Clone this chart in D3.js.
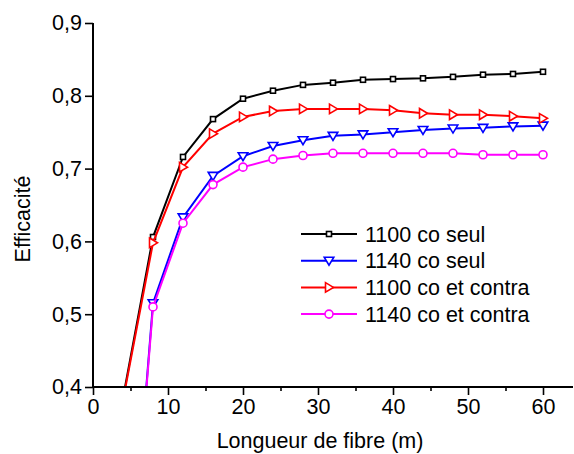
<!DOCTYPE html>
<html><head><meta charset="utf-8">
<script src="https://cdn.jsdelivr.net/npm/d3@7"></script>
<style>body{margin:0;background:#fff}svg{display:block}text{font-family:"Liberation Sans",Arial,sans-serif;fill:#000}</style>
</head><body><svg id="c" width="574" height="454"></svg>
<script>
const xValues = [4, 8, 12, 16, 20, 24, 28, 32, 36, 40, 44, 48, 52, 56, 60];
const s1100coSeul = [0.385, 0.606, 0.716, 0.768, 0.796, 0.807, 0.815, 0.818, 0.822, 0.823, 0.824, 0.826, 0.829, 0.830, 0.833];
const s1140coSeul = [0.0, 0.515, 0.633, 0.690, 0.717, 0.731, 0.739, 0.745, 0.747, 0.750, 0.753, 0.755, 0.756, 0.758, 0.759];
const s1100coContra = [0.382, 0.598, 0.702, 0.748, 0.771, 0.779, 0.782, 0.782, 0.782, 0.780, 0.776, 0.774, 0.774, 0.772, 0.769];
const s1140coContra = [0.0, 0.510, 0.625, 0.678, 0.702, 0.713, 0.718, 0.721, 0.721, 0.721, 0.721, 0.721, 0.719, 0.719, 0.719];
const seriesNames = ["1100 co seul", "1140 co seul", "1100 co et contra", "1140 co et contra"];
const xTicks = [0, 10, 20, 30, 40, 50, 60];
const xMinorTicks = [5, 15, 25, 35, 45, 55];
const yTicks = [0.4, 0.5, 0.6, 0.7, 0.8, 0.9];
const xTitle = "Longueur de fibre (m)";
const yTitle = "Efficacité";

const series = [
  {name: seriesNames[0], values: s1100coSeul, color: "#000000", shape: "square"},
  {name: seriesNames[1], values: s1140coSeul, color: "#0000ff", shape: "tridown"},
  {name: seriesNames[2], values: s1100coContra, color: "#ff0000", shape: "triright"},
  {name: seriesNames[3], values: s1140coContra, color: "#ff00ff", shape: "circle"}
];

const FONT = "'Liberation Sans', Arial, sans-serif";
const FS = "21.5px";
const svg = d3.select("#c");
const L = 93, R = 573, T = 23, B = 387;
const x = d3.scaleLinear().domain([0, 64]).range([L, R]);
const y = d3.scaleLinear().domain([0.4, 0.9]).range([B, T]);

svg.append("defs").append("clipPath").attr("id", "clip")
  .append("rect").attr("x", L).attr("y", T - 10).attr("width", R - L + 10).attr("height", B - T + 10);

function marker(g, shape, color) {
  if (shape === "square") {
    g.append("rect").attr("x", -2.5).attr("y", -2.5).attr("width", 5).attr("height", 5)
      .attr("fill", "#fff").attr("stroke", color).attr("stroke-width", 1.6);
  } else if (shape === "tridown") {
    g.append("path").attr("d", "M-4.8,-3.5 L4.8,-3.5 L0,4.5 Z")
      .attr("fill", "#fff").attr("stroke", color).attr("stroke-width", 1.6);
  } else if (shape === "triright") {
    g.append("path").attr("d", "M-3.5,-4.8 L4.5,0 L-3.5,4.8 Z")
      .attr("fill", "#fff").attr("stroke", color).attr("stroke-width", 1.6);
  } else {
    g.append("circle").attr("r", 4).attr("fill", "#fff").attr("stroke", color).attr("stroke-width", 1.6);
  }
}

const line = d3.line().x((d, i) => x(xValues[i])).y(d => y(d));
const plot = svg.append("g").attr("clip-path", "url(#clip)");
series.forEach(s => {
  plot.append("path").datum(s.values).attr("d", line)
    .attr("fill", "none").attr("stroke", s.color).attr("stroke-width", 2);
  s.values.forEach((v, i) => {
    if (v >= 0.4) {
      const g = plot.append("g").attr("transform", `translate(${x(xValues[i])},${y(v)})`);
      marker(g, s.shape, s.color);
    }
  });
});

// axes
const xAxis = svg.append("g").attr("transform", `translate(0,${B})`)
  .call(d3.axisBottom(x).tickValues(xTicks).tickSize(8).tickPadding(4).tickFormat(d3.format("d")));
svg.append("g").attr("transform", `translate(0,${B})`)
  .call(d3.axisBottom(x).tickValues(xMinorTicks).tickSize(4).tickFormat(""))
  .call(g => g.select(".domain").remove());
const yAxis = svg.append("g").attr("transform", `translate(${L},0)`)
  .call(d3.axisLeft(y).tickValues(yTicks).tickSize(8).tickPadding(3).tickFormat(d => d3.format(".1f")(d).replace(".", ",")));
svg.selectAll(".domain").attr("stroke-width", 2);
xAxis.select(".domain").attr("d", `M${L},0H${R}`);
yAxis.select(".domain").attr("d", `M0,${T}V${B}`);
svg.selectAll(".tick line").attr("stroke-width", 1.6);
svg.selectAll(".tick text").style("font-size", FS).style("font-family", FONT);

svg.append("text").attr("x", 320).attr("y", 448).attr("text-anchor", "middle")
  .style("font-size", FS).style("font-family", FONT).text(xTitle);
svg.append("text").attr("transform", "translate(30,219) rotate(-90)").attr("text-anchor", "middle")
  .style("font-size", FS).style("font-family", FONT).text(yTitle);

// legend
const leg = svg.append("g");
series.forEach((s, i) => {
  const yy = 234 + i * 26.7;
  leg.append("line").attr("x1", 301).attr("x2", 357).attr("y1", yy).attr("y2", yy)
    .attr("stroke", s.color).attr("stroke-width", 2);
  const g = leg.append("g").attr("transform", `translate(329,${yy})`);
  marker(g, s.shape, s.color);
  leg.append("text").attr("x", 365).attr("y", yy + 7.5)
    .style("font-size", FS).style("font-family", FONT).text(s.name);
});
</script></body></html>
